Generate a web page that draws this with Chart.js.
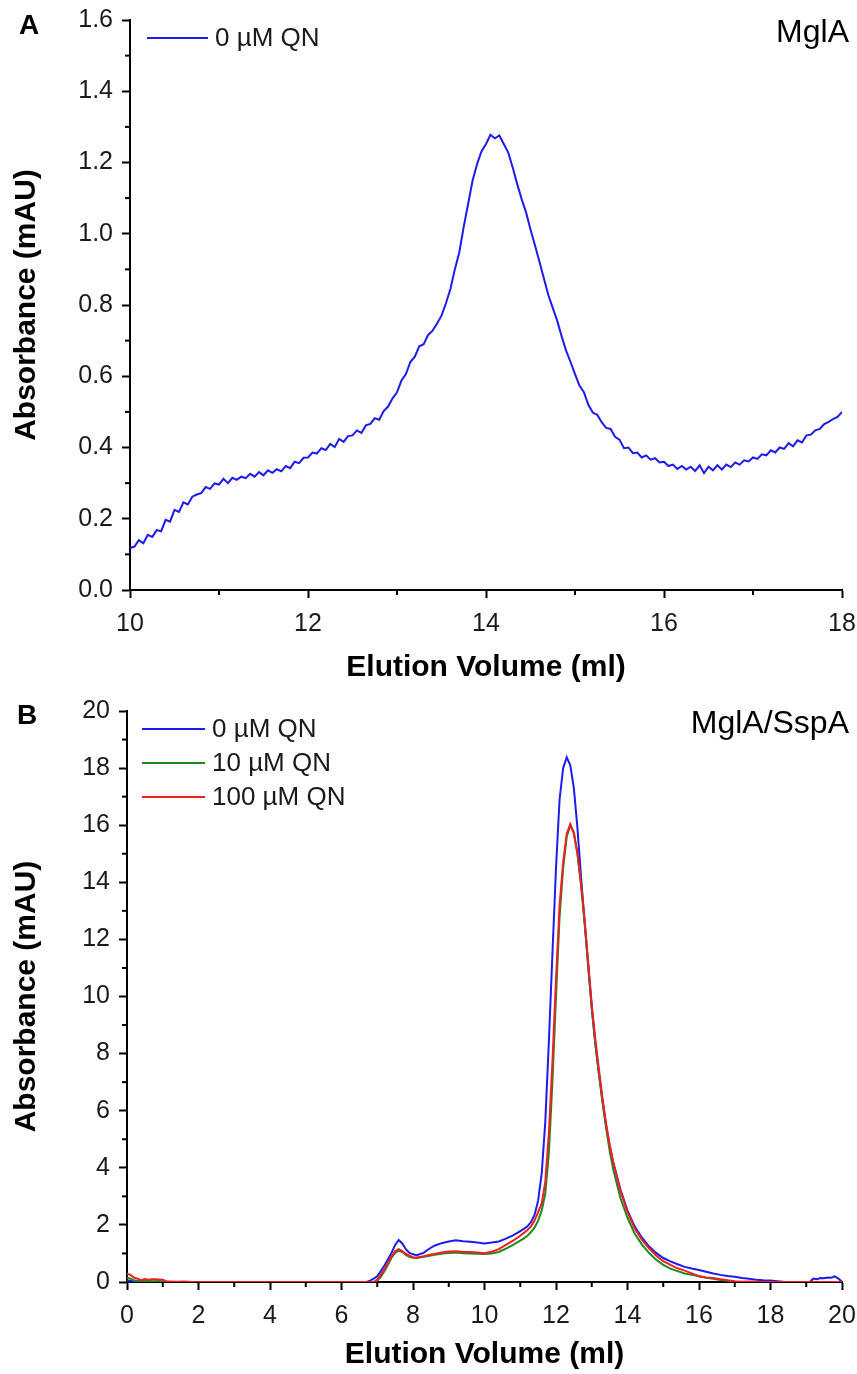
<!DOCTYPE html>
<html>
<head>
<meta charset="utf-8">
<title>MglA elution profiles</title>
<script src="https://cdn.jsdelivr.net/npm/chart.js@4.4.1/dist/chart.umd.min.js"></script>
<style>
  body { margin: 0; background: #fff; }
  canvas { display: block; }
</style>
</head>
<body>
<canvas id="chartA" width="857" height="690"></canvas>
<canvas id="chartB" width="857" height="684"></canvas>
<script>
// ---- panel A : MglA alone, sampled every 0.05 ml from 10 ml
var startA = 10, stepA = 0.05;
var absA = [
  0.118, 0.122, 0.140, 0.131, 0.155, 0.149, 0.168, 0.165, 0.197, 0.192, 0.225, 0.219, 0.246, 0.240, 0.262, 0.268, 0.272, 0.289, 0.284, 0.299,
  0.296, 0.312, 0.300, 0.315, 0.309, 0.318, 0.314, 0.326, 0.318, 0.331, 0.322, 0.336, 0.329, 0.339, 0.333, 0.348, 0.342, 0.360, 0.356, 0.371,
  0.372, 0.386, 0.383, 0.398, 0.393, 0.410, 0.401, 0.424, 0.416, 0.432, 0.434, 0.448, 0.441, 0.462, 0.466, 0.482, 0.478, 0.502, 0.515, 0.538,
  0.555, 0.588, 0.606, 0.640, 0.655, 0.684, 0.690, 0.716, 0.728, 0.748, 0.770, 0.805, 0.845, 0.900, 0.948, 1.020, 1.085, 1.150, 1.196, 1.232,
  1.252, 1.278, 1.268, 1.276, 1.252, 1.228, 1.186, 1.140, 1.098, 1.060, 1.012, 0.968, 0.922, 0.875, 0.828, 0.792, 0.756, 0.712, 0.672, 0.640,
  0.606, 0.574, 0.555, 0.520, 0.498, 0.492, 0.471, 0.455, 0.452, 0.430, 0.422, 0.398, 0.400, 0.384, 0.386, 0.372, 0.378, 0.366, 0.370, 0.358,
  0.360, 0.348, 0.352, 0.340, 0.348, 0.338, 0.346, 0.334, 0.350, 0.328, 0.346, 0.336, 0.350, 0.338, 0.352, 0.345, 0.358, 0.352, 0.364, 0.361,
  0.372, 0.368, 0.381, 0.378, 0.392, 0.386, 0.400, 0.396, 0.412, 0.403, 0.420, 0.414, 0.434, 0.436, 0.448, 0.452, 0.466, 0.472, 0.480, 0.486,
  0.500
];
var ticksXA = [10, 12, 14, 16, 18];
var ticksYA = [0, 0.2, 0.4, 0.6, 0.8, 1.0, 1.2, 1.4, 1.6];
var minorXA = [11, 13, 15, 17];
var minorYA = [0.1, 0.3, 0.5, 0.7, 0.9, 1.1, 1.3, 1.5];

// ---- panel B : MglA/SspA with quinine
var volB = [
  0, 0.1, 0.2, 0.3, 0.4, 0.5, 0.6, 0.7, 0.8, 0.9,
  1.0, 1.1, 1.2, 1.4, 1.6, 1.8, 2.0, 3.0, 4.0, 5.0,
  6.0, 6.6, 6.7, 6.8, 6.9, 7.0, 7.1, 7.2, 7.3, 7.4,
  7.5, 7.6, 7.7, 7.8, 7.9, 8.0, 8.1, 8.2, 8.3, 8.4,
  8.5, 8.6, 8.8, 9.0, 9.2, 9.4, 9.6, 9.8, 10.0, 10.2,
  10.4, 10.6, 10.8, 11.0, 11.1, 11.2, 11.3, 11.4, 11.5, 11.6,
  11.7, 11.8, 11.9, 12.0, 12.1, 12.2, 12.3, 12.4, 12.5, 12.6,
  12.7, 12.8, 12.9, 13.0, 13.1, 13.2, 13.3, 13.4, 13.5, 13.6,
  13.8, 14.0, 14.2, 14.4, 14.6, 14.8, 15.0, 15.2, 15.4, 15.6,
  15.8, 16.0, 16.2, 16.4, 16.6, 16.8, 17.0, 17.2, 17.4, 17.6,
  17.8, 18.0, 18.2, 18.4, 18.6, 18.8, 19.0, 19.1, 19.2, 19.3,
  19.4, 19.5, 19.6, 19.7, 19.8, 19.9, 20.0
];
var qn0 = [
  0.05, 0.04, 0.03, 0.03, 0.02, 0.02, 0.02, 0.01, 0.01, 0.01,
  0.01, 0, 0, 0, 0, 0, 0, 0, 0, 0,
  0, 0, 0, 0.05, 0.12, 0.2, 0.38, 0.58, 0.8, 1.02,
  1.3, 1.47, 1.35, 1.15, 1.02, 0.97, 0.94, 0.98, 1.02, 1.12,
  1.2, 1.27, 1.36, 1.42, 1.46, 1.43, 1.41, 1.38, 1.35, 1.38,
  1.42, 1.52, 1.63, 1.78, 1.86, 1.95, 2.1, 2.35, 2.85, 3.8,
  5.6, 8.4, 11.5, 14.5, 16.9, 18.0, 18.38, 18.1, 17.3, 15.9,
  14.2, 12.6, 11.1, 9.6, 8.35, 7.3, 6.35, 5.5, 4.8, 4.2,
  3.25, 2.5, 1.95, 1.56, 1.25, 1.02, 0.84, 0.72, 0.62, 0.53,
  0.47, 0.42, 0.36, 0.3, 0.25, 0.21, 0.18, 0.14, 0.11, 0.08,
  0.06, 0.05, 0.03, 0, 0, 0, 0, 0, 0.12, 0.1,
  0.14, 0.13, 0.16, 0.15, 0.2, 0.12, 0
];
var qn10 = [
  0.15, 0.12, 0.05, 0.04, 0.05, 0.03, 0.04, 0.03, 0.03, 0.04,
  0.02, 0.01, 0, 0, 0, 0, 0, 0, 0, 0,
  0, 0, 0, 0, 0, 0.05, 0.18, 0.38, 0.6, 0.85,
  1.02, 1.1, 1.05, 0.95, 0.88, 0.85, 0.84, 0.86, 0.88, 0.9,
  0.93, 0.95, 0.99, 1.02, 1.03, 1.01, 1.0, 0.99, 0.98, 1.0,
  1.05, 1.17, 1.3, 1.45, 1.53, 1.62, 1.75, 1.9, 2.15, 2.5,
  3.1, 4.5, 7.0, 10.0, 12.8, 14.5, 15.6, 16.0, 15.75, 15.0,
  13.9, 12.6, 11.1, 9.6, 8.35, 7.3, 6.3, 5.4, 4.6, 3.95,
  2.95, 2.25, 1.7, 1.32, 1.02, 0.78, 0.6, 0.47, 0.38, 0.3,
  0.25, 0.2, 0.15, 0.11, 0.07, 0.04, 0.01, 0, 0, 0,
  0, 0, 0, 0, 0, 0, 0, 0, 0, 0,
  0, 0, 0, 0, 0, 0, 0
];
var qn100 = [
  0.28, 0.25, 0.15, 0.12, 0.06, 0.1, 0.08, 0.1, 0.1, 0.09,
  0.08, 0.02, 0.02, 0.01, 0.02, 0, 0, 0, 0, 0,
  0, 0, 0, 0, 0, 0.08, 0.25, 0.45, 0.68, 0.9,
  1.08, 1.15, 1.08, 0.98, 0.92, 0.87, 0.86, 0.88, 0.9, 0.93,
  0.96, 0.98, 1.03, 1.07, 1.08, 1.05, 1.05, 1.03, 1.01, 1.06,
  1.15, 1.3, 1.45, 1.62, 1.72, 1.82, 1.95, 2.15, 2.45, 2.75,
  3.5, 5.2, 7.7, 10.6, 13.2, 14.7, 15.7, 16.04, 15.7, 15.0,
  13.95, 12.7, 11.2, 9.7, 8.5, 7.45, 6.45, 5.55, 4.8, 4.18,
  3.2, 2.45, 1.88, 1.48, 1.18, 0.93, 0.73, 0.6, 0.48, 0.4,
  0.3, 0.2, 0.16, 0.14, 0.1, 0.06, 0.03, 0.01, 0.02, 0.01,
  0, 0, 0, 0, 0, 0, 0, 0, 0, 0,
  0, 0, 0, 0, 0, 0, 0
];
var labelsB = ["0 \u00b5M QN", "10 \u00b5M QN", "100 \u00b5M QN"];
var ticksXB = [0, 2, 4, 6, 8, 10, 12, 14, 16, 18, 20];
var ticksYB = [0, 2, 4, 6, 8, 10, 12, 14, 16, 18, 20];
var minorXB = [1, 3, 5, 7, 9, 11, 13, 15, 17, 19];
var minorYB = [1, 3, 5, 7, 9, 11, 13, 15, 17, 19];

var FONT = '"Liberation Sans", Arial, Helvetica, sans-serif';
Chart.defaults.font.family = FONT;
Chart.defaults.color = '#1a1a1a';

function pairs(xs, ys) {
  return ys.map(function (v, i) { return { x: xs[i], y: v }; });
}

// minor ticks, legend inside the plot, panel letter and sample name
var extras = {
  id: 'extras',
  afterDraw: function (chart, args, o) {
    var ctx = chart.ctx, xs = chart.scales.x, ys = chart.scales.y;
    ctx.save();
    ctx.strokeStyle = '#000';
    ctx.lineWidth = 2;
    o.minorX.forEach(function (v) {
      var p = xs.getPixelForValue(v);
      ctx.beginPath(); ctx.moveTo(p, xs.top); ctx.lineTo(p, xs.top + 5); ctx.stroke();
    });
    o.minorY.forEach(function (v) {
      var p = ys.getPixelForValue(v);
      ctx.beginPath(); ctx.moveTo(ys.right, p); ctx.lineTo(ys.right - 5, p); ctx.stroke();
    });

    // legend
    ctx.font = '26px ' + FONT;
    ctx.textBaseline = 'middle';
    ctx.textAlign = 'left';
    chart.data.datasets.forEach(function (ds, i) {
      var y = o.legendY + i * o.legendGap;
      ctx.strokeStyle = ds.borderColor;
      ctx.lineWidth = 2;
      ctx.beginPath(); ctx.moveTo(o.legendX, y); ctx.lineTo(o.legendX + o.legendLen, y); ctx.stroke();
      ctx.fillStyle = '#1a1a1a';
      ctx.fillText(ds.label, o.legendX + o.legendLen + 7, y + 1);
    });

    ctx.textBaseline = 'alphabetic';
    ctx.fillStyle = '#000';
    ctx.font = 'bold 28px ' + FONT;
    ctx.fillText(o.letter, o.letterX, 34);
    ctx.font = '32px ' + FONT;
    ctx.textAlign = 'right';
    ctx.fillText(o.name, 849, o.nameY);
    ctx.restore();
  }
};

// tick padding also widens Chart.js' edge padding, so labels are moved with lineHeight instead
function axisOpts(min, max, ticks, fmt, sizeFix, horiz) {
  return {
    type: 'linear',
    min: min,
    max: max,
    z: 1,
    afterFit: sizeFix,
    afterBuildTicks: function (s) { s.ticks = ticks.map(function (v) { return { value: v }; }); },
    border: { display: true, color: '#000', width: 2 },
    grid: { drawOnChartArea: false, drawTicks: true, tickLength: 8, tickWidth: 2, tickColor: '#000' },
    ticks: {
      font: { size: 25, lineHeight: horiz ? 2 : 0.5 },
      color: '#1a1a1a',
      padding: horiz ? 1 : 9,
      maxRotation: 0,
      autoSkip: false,
      callback: fmt
    }
  };
}

var titleFont = { size: 30, weight: 'bold', lineHeight: 1 };

// ---- chart A
var xA = absA.map(function (v, i) { return startA + i * stepA; });
var sxA = axisOpts(10, 18, ticksXA, function (v) { return v; }, function (s) { s.height = 100; }, true);
sxA.title = { display: true, text: 'Elution Volume (ml)', color: '#000', font: titleFont, padding: { bottom: 7 } };
var syA = axisOpts(0, 1.6, ticksYA, function (v) { return v.toFixed(1); }, function (s) { s.width = 130; }, false);
syA.title = { display: true, text: 'Absorbance (mAU)', color: '#000', font: titleFont, padding: { top: 12 } };

new Chart(document.getElementById('chartA'), {
  type: 'line',
  data: {
    datasets: [{
      label: '0 \u00b5M QN',
      data: pairs(xA, absA),
      borderColor: '#1c1cee',
      borderWidth: 2,
      pointRadius: 0,
      tension: 0,
      fill: false
    }]
  },
  options: {
    responsive: false,
    animation: false,
    events: [],
    layout: { padding: { left: 0, right: 15, top: 20, bottom: 0 } },
    scales: { x: sxA, y: syA },
    plugins: {
      legend: { display: false },
      tooltip: { enabled: false },
      extras: {
        minorX: minorXA, minorY: minorYA,
        legendX: 147, legendY: 38, legendLen: 61, legendGap: 34,
        letter: 'A', letterX: 19, name: 'MglA', nameY: 42
      }
    }
  },
  plugins: [extras]
});

// ---- chart B
var sxB = axisOpts(0, 20, ticksXB, function (v) { return v; }, function (s) { s.height = 92; }, true);
sxB.title = { display: true, text: 'Elution Volume (ml)', color: '#000', font: titleFont, padding: { bottom: 4 } };
var syB = axisOpts(0, 20, ticksYB, function (v) { return v; }, function (s) { s.width = 127; }, false);
syB.title = { display: true, text: 'Absorbance (mAU)', color: '#000', font: titleFont, padding: { top: 12 } };

new Chart(document.getElementById('chartB'), {
  type: 'line',
  data: {
    datasets: [
      { label: labelsB[0], data: pairs(volB, qn0), borderColor: '#1c1cee', order: 3 },
      { label: labelsB[1], data: pairs(volB, qn10), borderColor: '#1e8a1e', order: 2 },
      { label: labelsB[2], data: pairs(volB, qn100), borderColor: '#f02020', order: 1 }
    ]
  },
  options: {
    responsive: false,
    animation: false,
    events: [],
    layout: { padding: { left: 0, right: 15, top: 21, bottom: 0 } },
    elements: { line: { borderWidth: 2, tension: 0, fill: false }, point: { radius: 0 } },
    scales: { x: sxB, y: syB },
    plugins: {
      legend: { display: false },
      tooltip: { enabled: false },
      extras: {
        minorX: minorXB, minorY: minorYB,
        legendX: 142, legendY: 39, legendLen: 63, legendGap: 34,
        letter: 'B', letterX: 17, name: 'MglA/SspA', nameY: 43
      }
    }
  },
  plugins: [extras]
});
</script>
</body>
</html>
